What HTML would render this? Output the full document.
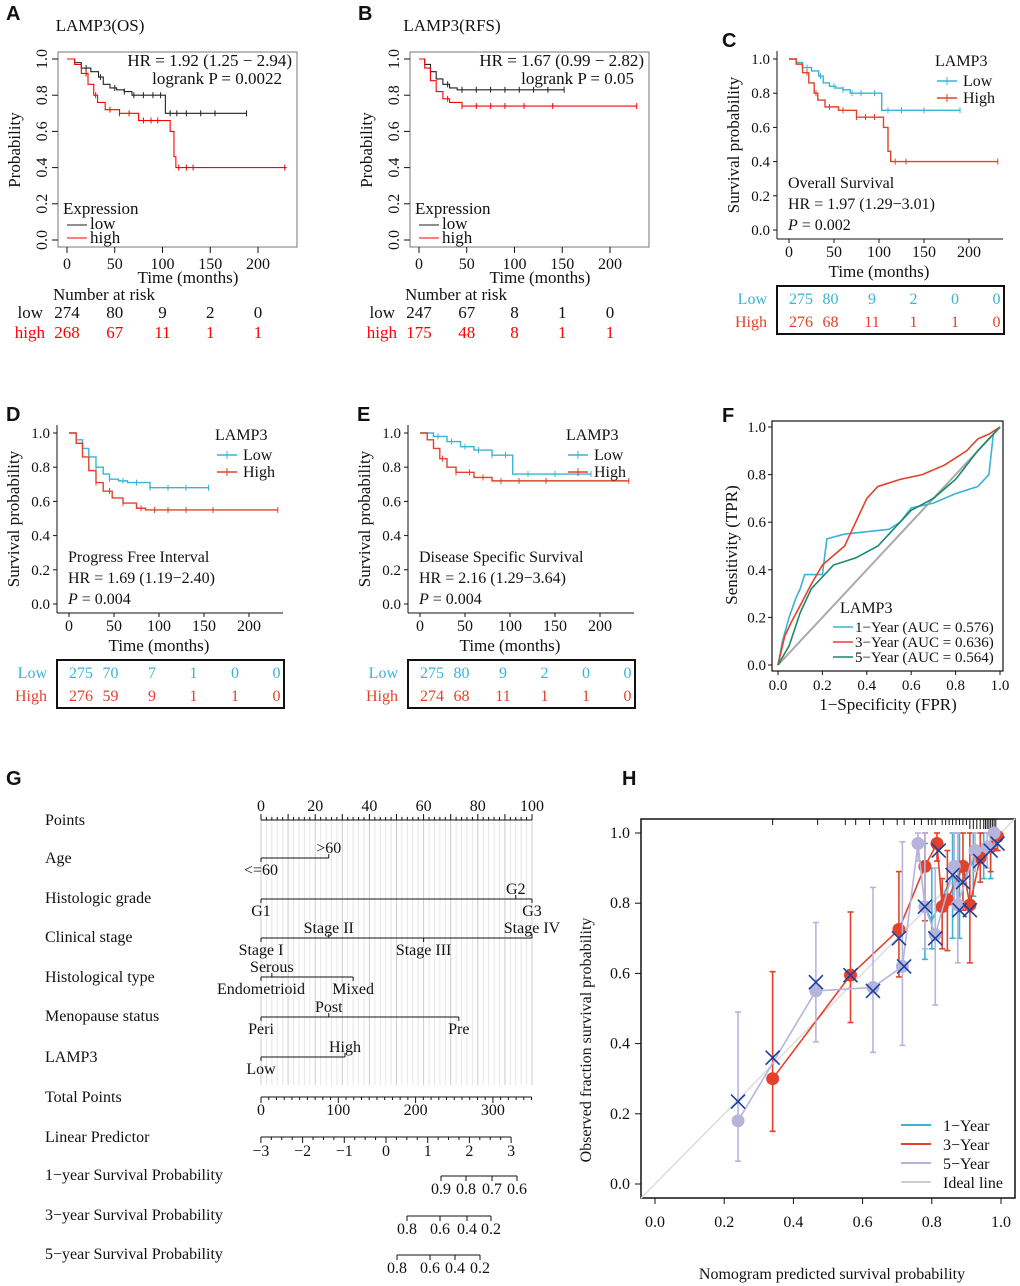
<!DOCTYPE html>
<html><head><meta charset="utf-8"><style>
html,body{margin:0;padding:0;background:#fff}
svg{display:block;font-family:"Liberation Serif",serif}
</style></head><body>
<svg id="fig" width="1020" height="1286" viewBox="0 0 1020 1286" xmlns="http://www.w3.org/2000/svg"></svg>
<script>
// ---------- Data ----------
const aLowT=[0,8,15,25,33,38,45,52,60,68,103,188], aLowS=[1,0.98,0.95,0.93,0.90,0.86,0.84,0.83,0.82,0.80,0.70,0.70];
const aHighT=[0,8,15,22,28,32,40,55,75,108,112,114,230], aHighS=[1,0.97,0.92,0.86,0.80,0.76,0.72,0.70,0.66,0.60,0.46,0.40,0.40];
const aLowC=[20,35,50,60,70,80,90,98,108,115,125,140,155,188], aHighC=[20,30,45,55,65,80,88,95,117,125,132,228];
const bLowT=[0,6,12,18,25,32,40,152], bLowS=[1,0.97,0.93,0.89,0.86,0.84,0.83,0.83];
const bHighT=[0,6,12,18,25,32,45,228], bHighS=[1,0.95,0.88,0.82,0.78,0.76,0.74,0.74];
const bLowC=[30,45,60,75,90,105,120,135,152], bHighC=[30,45,60,75,90,110,140,228];
const cLowT=[0,8,15,25,33,38,45,52,60,68,103,190], cLowS=[1,0.98,0.95,0.93,0.90,0.86,0.84,0.83,0.82,0.80,0.70,0.70];
const cHighT=[0,8,15,22,28,32,40,55,75,105,110,113,232], cHighS=[1,0.97,0.92,0.86,0.80,0.76,0.72,0.70,0.66,0.60,0.46,0.40,0.40];
const cLowC=[20,35,50,60,70,80,95,110,125,150,190], cHighC=[20,30,45,60,75,85,95,118,130,232];
const dLowT=[0,8,15,22,30,38,45,55,65,90,155], dLowS=[1,0.96,0.91,0.86,0.80,0.76,0.73,0.72,0.71,0.68,0.68];
const dHighT=[0,8,15,22,30,38,48,60,75,85,232], dHighS=[1,0.94,0.86,0.78,0.71,0.66,0.62,0.59,0.56,0.55,0.55];
const dLowC=[30,45,60,75,90,110,130,155], dHighC=[30,45,60,80,95,110,130,160,232];
const eLowT=[0,15,30,45,60,80,103,190], eLowS=[1,0.98,0.95,0.92,0.90,0.87,0.76,0.76];
const eHighT=[0,8,15,22,30,40,60,80,232], eHighS=[1,0.96,0.91,0.85,0.80,0.77,0.74,0.72,0.72];
const eLowC=[20,35,50,65,80,95,120,150,190], eHighC=[25,40,55,70,90,110,140,232];
const riskA=[[274,80,9,2,0],[268,67,11,1,1]];
const riskB=[[247,67,8,1,0],[175,48,8,1,1]];
const riskC=[[275,80,9,2,0,0],[276,68,11,1,1,0]];
const riskD=[[275,70,7,1,0,0],[276,59,9,1,1,0]];
const riskE=[[275,80,9,2,0,0],[274,68,11,1,1,0]];
const roc1F=[0,0.02,0.05,0.08,0.10,0.12,0.20,0.22,0.30,0.40,0.50,0.55,0.60,0.70,0.80,0.90,0.95,0.97,1];
const roc1T=[0,0.10,0.20,0.28,0.32,0.38,0.38,0.53,0.55,0.56,0.57,0.60,0.66,0.68,0.72,0.75,0.80,0.97,1];
const roc3F=[0,0.03,0.06,0.10,0.15,0.20,0.25,0.30,0.35,0.40,0.45,0.55,0.65,0.75,0.80,0.85,0.90,0.95,1];
const roc3T=[0,0.12,0.18,0.25,0.34,0.42,0.46,0.50,0.60,0.70,0.75,0.78,0.80,0.84,0.87,0.90,0.95,0.97,1];
const roc5F=[0,0.05,0.10,0.15,0.25,0.35,0.45,0.50,0.60,0.70,0.80,0.90,0.95,1];
const roc5T=[0,0.08,0.22,0.32,0.42,0.45,0.50,0.55,0.65,0.70,0.78,0.90,0.95,1];
const cal1X=[0.78,0.80,0.86,0.88,0.92,0.95,0.97,0.99], cal1Y=[0.79,0.75,0.88,0.85,0.92,0.95,0.96,0.99];
const cal1Lo=[0.64,0.67,0.70,0.70,0.82,0.87,0.87,0.95], cal1Hi=[0.97,0.90,1.0,1.0,1.0,1.0,1.0,1.0];
const cal3X=[0.34,0.565,0.705,0.78,0.815,0.83,0.845,0.89,0.91,0.94,0.97,0.99], cal3Y=[0.30,0.595,0.725,0.905,0.97,0.79,0.81,0.905,0.795,0.93,0.96,0.99];
const cal3Lo=[0.15,0.46,0.59,0.75,0.92,0.67,0.665,0.78,0.63,0.86,0.89,0.95], cal3Hi=[0.605,0.775,0.89,1.0,1.0,0.87,0.95,1.0,1.0,1.0,1.0,1.0];
const cal5X=[0.24,0.465,0.63,0.715,0.76,0.78,0.81,0.865,0.875,0.925,0.96,0.98], cal5Y=[0.18,0.55,0.56,0.62,0.97,0.79,0.71,0.905,0.795,0.95,0.96,1.0];
const cal5Lo=[0.065,0.405,0.375,0.395,0.92,0.67,0.51,0.80,0.63,0.89,0.90,0.96], cal5Hi=[0.49,0.745,0.845,0.975,1.0,1.0,0.90,1.0,1.0,1.0,1.0,1.0];
const calXX=[0.24,0.34,0.465,0.565,0.63,0.705,0.72,0.78,0.81,0.82,0.86,0.88,0.89,0.91,0.94,0.97,0.99];
const calXY=[0.235,0.36,0.575,0.595,0.55,0.70,0.62,0.79,0.70,0.95,0.88,0.78,0.86,0.78,0.92,0.95,0.97];
const rugH=[0.34,0.47,0.55,0.58,0.62,0.66,0.70,0.72,0.75,0.77,0.79,0.80,0.81,0.83,0.84,0.85,0.86,0.87,0.88,0.89,0.90,0.91,0.92,0.93,0.94,0.95,0.955,0.96,0.965,0.97,0.975,0.98,0.985];

// ---------- helpers ----------
const NS="http://www.w3.org/2000/svg", svg=document.getElementById('fig');
function mk(tag,attrs,name,parent){const el=document.createElementNS(NS,tag);for(const k in attrs)el.setAttribute(k,attrs[k]);


(parent||svg).appendChild(el);return el;}
function T(x,y,s,name,o){o=o||{};const a={x:x,y:y,'font-size':o.fs||16,fill:o.fill||'#111','text-anchor':o.a||'start'};if(o.rot)a.transform='rotate(-90 '+x+' '+y+')';if(o.bold){a['font-family']='"Liberation Sans",sans-serif';a['font-weight']='bold';}const t=mk('text',a,name);t.textContent=s;return t;}
function L(x1,y1,x2,y2,name,c,w){return mk('line',{x1:x1,y1:y1,x2:x2,y2:y2,stroke:c||'#111','stroke-width':w||1},name);}
function stepPath(ts,ss,X,Y){let d='M'+X(ts[0])+' '+Y(ss[0]);for(let i=1;i<ts.length;i++){d+=' H'+X(ts[i])+' V'+Y(ss[i]);}return d;}
function survAt(ts,ss,t){let s=ss[0];for(let i=0;i<ts.length;i++){if(ts[i]<=t)s=ss[i];}return s;}
function km(ts,ss,cs,X,Y,col,name,w){mk('path',{d:stepPath(ts,ss,X,Y),fill:'none',stroke:col,'stroke-width':w||1.3},name);
cs.forEach(c=>{const y=Y(survAt(ts,ss,c));L(X(c),y-3,X(c),y+3,name+'-censor',col,1);});}
function panelLabel(x,y,s){T(x,y,s,'panel-label-'+s.toLowerCase(),{bold:true,fs:20});}

// ---------- Panels A & B ----------
function baseKM(ox,key,title,lowT,lowS,lowC,highT,highS,highC,risk,hr,p,letter){
  panelLabel(ox+6,20,letter);
  T(ox+100,31,title,'plot-title-'+key,{a:'middle',fs:17});
  const X=t=>ox+67+t*0.955, Y=s=>240-s*181;
  mk('rect',{x:ox+58,y:52,width:239,height:195,fill:'none',stroke:'#777','stroke-width':1},'plot-box-'+key);
  [0,0.2,0.4,0.6,0.8,1].forEach(v=>{L(ox+52,Y(v),ox+58,Y(v),'y-tick-'+key);T(ox+47,Y(v),v.toFixed(1),'y-tick-label-'+key,{a:'middle',rot:true,fs:16});});
  [0,50,100,150,200].forEach(v=>{L(X(v),247,X(v),253,'x-tick-'+key);T(X(v),269,String(v),'x-tick-label-'+key,{a:'middle',fs:16});});
  T(ox+20,150,'Probability','y-axis-title-'+key,{a:'middle',rot:true,fs:17});
  T(ox+188,283,'Time (months)','x-axis-title-'+key,{a:'middle',fs:17});
  km(lowT,lowS,lowC,X,Y,'#222','km-low-'+key,1.1);
  km(highT,highS,highC,X,Y,'#f00','km-high-'+key,1.1);
  T(ox+292,66,hr,'hr-text-'+key,{a:'end',fs:17});
  T(ox+282,84,p,'logrank-text-'+key,{a:'end',fs:17});
  T(ox+63,214,'Expression','legend-title-'+key,{fs:17});
  L(ox+67,225,ox+87,225,'legend-line-low-'+key,'#222');T(ox+90,229,'low','legend-low-'+key,{fs:17});
  L(ox+67,238,ox+87,238,'legend-line-high-'+key,'#f00');T(ox+90,243,'high','legend-high-'+key,{fs:17});
  T(ox+53,300,'Number at risk','risk-title-'+key,{fs:17});
  T(ox+43,318,'low','risk-row-low-'+key,{a:'end',fs:17});T(ox+45,338,'high','risk-row-high-'+key,{a:'end',fs:17,fill:'#f00'});
  risk[0].forEach((v,i)=>T(X(i*50),318,String(v),'risk-low-'+key,{a:'middle',fs:17}));
  risk[1].forEach((v,i)=>T(X(i*50),338,String(v),'risk-high-'+key,{a:'middle',fs:17,fill:'#f00'}));
}
baseKM(0,'a','LAMP3(OS)',aLowT,aLowS,aLowC,aHighT,aHighS,aHighC,riskA,'HR = 1.92 (1.25 − 2.94)','logrank P = 0.0022','A');
baseKM(352,'b','LAMP3(RFS)',bLowT,bLowS,bLowC,bHighT,bHighS,bHighC,riskB,'HR = 1.67 (0.99 − 2.82)','logrank P = 0.05','B');

// ---------- Panels C, D, E ----------
const CY='#3bb3d3', CR='#e2422b';
function gKM(ax,top,key,lowT,lowS,lowC,highT,highS,highC,risk,l1,l2,l3,legX,letter,letX){
  panelLabel(letX,top-12,letter);
  const y1=top, y0=top+171, X=t=>ax+12+t*0.9, Y=s=>y0-s*(y0-y1);
  const axY=y0+9;
  L(ax,top-8,ax,axY,'y-axis-line-'+key);L(ax,axY,ax+226,axY,'x-axis-line-'+key);
  [0,0.2,0.4,0.6,0.8,1].forEach(v=>{L(ax-4,Y(v),ax,Y(v),'y-tick-'+key);T(ax-7,Y(v)+5,v.toFixed(1),'y-tick-label-'+key,{a:'end',fs:15});});
  [0,50,100,150,200].forEach(v=>{L(X(v),axY,X(v),axY+4,'x-tick-'+key);T(X(v),axY+18,String(v),'x-tick-label-'+key,{a:'middle',fs:16});});
  T(ax-38,y0-85,'Survival probability','y-axis-title-'+key,{a:'middle',rot:true,fs:17});
  T(ax+102,axY+38,'Time (months)','x-axis-title-'+key,{a:'middle',fs:17});
  km(lowT,lowS,lowC,X,Y,CY,'km-low-'+key,1.4);
  km(highT,highS,highC,X,Y,CR,'km-high-'+key,1.4);
  T(legX,top+7,'LAMP3','legend-title-'+key,{fs:16});
  L(legX+2,top+22,legX+22,top+22,'legend-line-low-'+key,CY,1.5);L(legX+12,top+18,legX+12,top+26,'legend-tick-low-'+key,CY);
  T(legX+28,top+27,'Low','legend-low-'+key,{fs:16});
  L(legX+2,top+39,legX+22,top+39,'legend-line-high-'+key,CR,1.5);L(legX+12,top+35,legX+12,top+43,'legend-tick-high-'+key,CR);
  T(legX+28,top+44,'High','legend-high-'+key,{fs:16});
  T(ax+11,top+129,l1,'surv-type-'+key,{fs:16});
  T(ax+11,top+150,l2,'hr-text-'+key,{fs:16});
  const p=T(ax+11,top+171,'','p-text-'+key,{fs:16});
  const ps=document.createElementNS(NS,'tspan');ps.setAttribute('font-style','italic');ps.textContent='P';p.appendChild(ps);p.appendChild(document.createTextNode(l3));
  const ty=axY+47;
  mk('rect',{x:ax,y:ty,width:227,height:48,fill:'none',stroke:'#111','stroke-width':2},'risk-table-'+key);
  T(ax-10,ty+18,'Low','risk-row-low-'+key,{a:'end',fs:16,fill:CY});T(ax-10,ty+41,'High','risk-row-high-'+key,{a:'end',fs:16,fill:CR});
  risk[0].forEach((v,i)=>T(ax+12+i*41.5,ty+18,String(v),'risk-low-'+key,{a:i==0?'start':'middle',fs:16,fill:CY}));
  risk[1].forEach((v,i)=>T(ax+12+i*41.5,ty+41,String(v),'risk-high-'+key,{a:i==0?'start':'middle',fs:16,fill:CR}));
}
gKM(777,59,'c',cLowT,cLowS,cLowC,cHighT,cHighS,cHighC,riskC,'Overall Survival','HR = 1.97 (1.29−3.01)',' = 0.002',935,'C',722);
gKM(57,433,'d',dLowT,dLowS,dLowC,dHighT,dHighS,dHighC,riskD,'Progress Free Interval','HR = 1.69 (1.19−2.40)',' = 0.004',215,'D',6);
gKM(408,433,'e',eLowT,eLowS,eLowC,eHighT,eHighS,eHighC,riskE,'Disease Specific Survival','HR = 2.16 (1.29−3.64)',' = 0.004',566,'E',357);

// ---------- Panel F ROC ----------
(function(){
  panelLabel(722,422,'F');
  const X=v=>778+v*222, Y=v=>665-v*238;
  mk('rect',{x:772,y:421,width:231,height:250,fill:'none',stroke:'#111','stroke-width':1.2},'roc-box');
  L(X(0),Y(0),X(1),Y(1),'roc-diagonal','#aaa',2);
  [0,0.2,0.4,0.6,0.8,1].forEach(v=>{L(768,Y(v),772,Y(v),'roc-y-tick');T(766,Y(v)+5,v.toFixed(1),'roc-y-tick-label',{a:'end',fs:15});
    L(X(v),671,X(v),675,'roc-x-tick');T(X(v),690,v.toFixed(1),'roc-x-tick-label',{a:'middle',fs:15});});
  T(737,545,'Sensitivity (TPR)','roc-y-axis-title',{a:'middle',rot:true,fs:17});
  T(888,710,'1−Specificity (FPR)','roc-x-axis-title',{a:'middle',fs:17});
  const line=(F,Tp,c,n)=>{let d='';F.forEach((f,i)=>{d+=(i?' L':'M')+X(f)+' '+Y(Tp[i]);});mk('path',{d:d,fill:'none',stroke:c,'stroke-width':1.6},n);};
  line(roc1F,roc1T,'#3bb3d3','roc-1-year');line(roc3F,roc3T,'#e2422b','roc-3-year');line(roc5F,roc5T,'#1a8a6c','roc-5-year');
  T(840,613,'LAMP3','roc-legend-title',{fs:16});
  [['#3bb3d3','1−Year (AUC = 0.576)'],['#e2422b','3−Year (AUC = 0.636)'],['#1a8a6c','5−Year (AUC = 0.564)']].forEach((e,i)=>{
    L(833,627+i*15,853,627+i*15,'roc-legend-line',e[0],1.6);T(855,632+i*15,e[1],'roc-legend-entry',{fs:15});});
})();

// ---------- Panel G nomogram ----------
(function(){
  panelLabel(6,785,'G');
  const P=v=>261+v*2.71;
  for(let v=0;v<=100;v+=2){L(P(v),815,P(v),1085,'nomo-grid',v%10==0?'#ccc':'#e6e6e6',1);}
  const rows=[['Points',820],['Age',858],['Histologic grade',898],['Clinical stage',937],['Histological type',977],['Menopause status',1016],['LAMP3',1057],['Total Points',1097],['Linear Predictor',1137],['1−year Survival Probability',1175],['3−year Survival Probability',1215],['5−year Survival Probability',1254]];
  rows.forEach(r=>T(45,r[1]+5,r[0],'nomo-row-label',{fs:16}));
  L(P(0),820,P(100),820,'points-axis');
  for(let v=0;v<=100;v+=2)L(P(v),820,P(v),v%10==0?814:817,'points-tick');
  for(let v=0;v<=100;v+=20)T(P(v),811,String(v),'points-tick-label',{a:'middle',fs:16});
  function varLine(y,maxV,levels){L(P(0),y,P(maxV),y,'nomo-var-line');levels.forEach(l=>{const up=l[2];L(P(l[1]),y,P(l[1]),up?y-4:y+4,'nomo-var-tick');T(P(l[1]),up?y-5:y+17,l[0],'nomo-level-label',{a:'middle',fs:16});});}
  varLine(858,25,[['<=60',0,0],['>60',25,1]]);
  varLine(899,100,[['G1',0,0],['G2',94,1],['G3',100,0]]);
  varLine(938,100,[['Stage I',0,0],['Stage II',25,1],['Stage III',60,0],['Stage IV',100,1]]);
  varLine(977,34,[['Endometrioid',0,0],['Serous',4,1],['Mixed',34,0]]);
  varLine(1017,73,[['Peri',0,0],['Post',25,1],['Pre',73,0]]);
  varLine(1057,31,[['Low',0,0],['High',31,1]]);
  const TP=v=>261+v*0.773;
  L(TP(0),1097,TP(350),1097,'total-points-axis');
  for(let v=0;v<=350;v+=10)L(TP(v),1097,TP(v),v%100==0?1103:1100,'total-points-tick');
  [0,100,200,300].forEach(v=>T(TP(v),1115,String(v),'total-points-label',{a:'middle',fs:16}));
  const LP=v=>386+v*41.7;
  L(LP(-3),1137,LP(3),1137,'lp-axis');
  for(let v=-3;v<=3.001;v+=0.25)L(LP(v),1137,LP(v),Math.abs(v-Math.round(v))<0.01?1143:1140,'lp-tick');
  [-3,-2,-1,0,1,2,3].forEach(v=>T(LP(v),1156,String(v).replace('-','−'),'lp-label',{a:'middle',fs:16}));
  function probAxis(y,ticks,xs){L(xs[0],y,xs[xs.length-1],y,'prob-axis');ticks.forEach((t,i)=>{L(xs[i],y,xs[i],y+5,'prob-tick');T(xs[i],y+18,t,'prob-label',{a:'middle',fs:16});});}
  probAxis(1176,['0.9','0.8','0.7','0.6'],[441,466,492,517]);
  probAxis(1216,['0.8','0.6','0.4','0.2'],[407,440,467,491]);
  probAxis(1255,['0.8','0.6','0.4','0.2'],[397,430,455,480]);
})();

// ---------- Panel H calibration ----------
(function(){
  panelLabel(622,785,'H');
  const X=v=>655+v*346, Y=v=>1184-v*351;
  mk('rect',{x:641,y:819,width:374,height:379,fill:'none',stroke:'#111','stroke-width':1.5},'calib-box');
  L(X(-0.04),Y(-0.04),X(1.04),Y(1.04),'ideal-line','#ddd',1.5);
  rugH.forEach(v=>L(X(v),819,X(v),819+(v>0.9?10:6),'rug-tick','#111',1));
  [0,0.2,0.4,0.6,0.8,1].forEach(v=>{L(635,Y(v),641,Y(v),'calib-y-tick');T(630,Y(v)+5,v.toFixed(1),'calib-y-tick-label',{a:'end',fs:16});
    L(X(v),1198,X(v),1204,'calib-x-tick');T(X(v),1227,v.toFixed(1),'calib-x-tick-label',{a:'middle',fs:16});});
  T(591,1040,'Observed fraction survival probability','calib-y-axis-title',{a:'middle',rot:true,fs:16});
  T(832,1279,'Nomogram predicted survival probability','calib-x-axis-title',{a:'middle',fs:16});
  function series(xs,ys,lo,hi,c,n,r){let d='';xs.forEach((x,i)=>{d+=(i?' L':'M')+X(x)+' '+Y(ys[i]);});
    xs.forEach((x,i)=>{L(X(x),Y(lo[i]),X(x),Y(hi[i]),n+'-errbar',c,1.6);L(X(x)-3,Y(lo[i]),X(x)+3,Y(lo[i]),n+'-errcap',c,1.6);L(X(x)-3,Y(hi[i]),X(x)+3,Y(hi[i]),n+'-errcap',c,1.6);});
    mk('path',{d:d,fill:'none',stroke:c,'stroke-width':1.6},n+'-line');
    if(r)xs.forEach((x,i)=>mk('circle',{cx:X(x),cy:Y(ys[i]),r:r,fill:c},n+'-point'));}
  series(cal1X,cal1Y,cal1Lo,cal1Hi,'#3bb3d3','calib-1-year',0);
  series(cal3X,cal3Y,cal3Lo,cal3Hi,'#e2422b','calib-3-year',6.5);
  series(cal5X,cal5Y,cal5Lo,cal5Hi,'#b7b4dc','calib-5-year',6.5);
  calXX.forEach((x,i)=>{const cx=X(x),cy=Y(calXY[i]);L(cx-7,cy-7,cx+7,cy+7,'calib-x-marker','#1a3fa0',1.6);L(cx-7,cy+7,cx+7,cy-7,'calib-x-marker','#1a3fa0',1.6);});
  [['#3bb3d3','1−Year'],['#e2422b','3−Year'],['#b7b4dc','5−Year'],['#ccc','Ideal line']].forEach((e,i)=>{
    L(901,1125+i*19,931,1125+i*19,'calib-legend-line',e[0],2);T(943,1131+i*19,e[1],'calib-legend-entry',{fs:16});});
})();
</script>
</body></html>
